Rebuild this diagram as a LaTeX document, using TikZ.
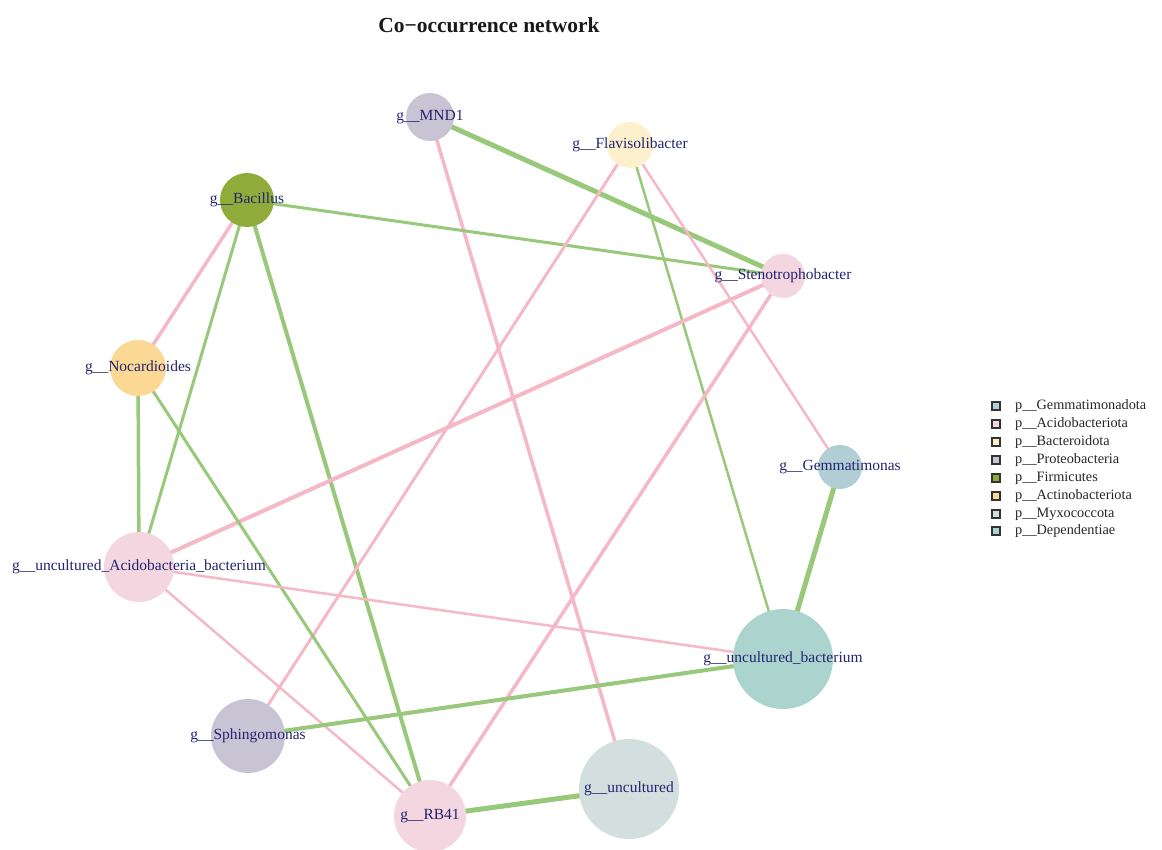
\documentclass[tikz,border=0pt]{standalone}
\usepackage{fontspec}
\setmainfont{Liberation Serif}
\pgfdeclarelayer{bg}
\pgfsetlayers{bg,main}
\definecolor{cGem}{RGB}{176,206,212}
\definecolor{cAcido}{RGB}{243,214,224}
\definecolor{cBacte}{RGB}{252,240,205}
\definecolor{cProteo}{RGB}{200,196,212}
\definecolor{cFirm}{RGB}{143,172,58}
\definecolor{cActino}{RGB}{251,216,148}
\definecolor{cMyxo}{RGB}{211,223,223}
\definecolor{cDep}{RGB}{172,212,206}
\definecolor{edgegreen}{RGB}{152,200,122}
\definecolor{edgepink}{RGB}{244,184,198}
\definecolor{labelc}{RGB}{36,36,112}
\begin{document}
\begin{tikzpicture}[x=1pt,y=-1pt,
  taxon/.style={circle, inner sep=0pt},
  tlabel/.style={text=labelc, inner sep=0pt, font=\fontsize{15.5}{15.5}\selectfont},
  posedge/.style={draw=edgegreen},
  negedge/.style={draw=edgepink},
  legsq/.style={draw=black!80, line width=1.3pt, minimum size=8pt, inner sep=0pt},
  legtx/.style={anchor=west, inner sep=0pt, text=black!85, font=\fontsize{14.3}{14.3}\selectfont}]
\useasboundingbox (0,0) rectangle (1162,850);

\node[font=\bfseries\fontsize{21.5}{21.5}\selectfont, text=black!90] (title) at (489,25) {Co−occurrence network};

% nodes
\node[taxon, fill=cProteo, minimum size=48pt, label={[tlabel]center:g\_\_MND1}] (mnd1) at (430,117) {};
\node[taxon, fill=cBacte, minimum size=46pt, label={[tlabel]center:g\_\_Flavisolibacter}] (flavi) at (630,145) {};
\node[taxon, fill=cFirm, minimum size=54pt, label={[tlabel]center:g\_\_Bacillus}] (bacil) at (247,200) {};
\node[taxon, fill=cAcido, minimum size=44pt, label={[tlabel]center:g\_\_Stenotrophobacter}] (steno) at (783,276) {};
\node[taxon, fill=cActino, minimum size=56pt, label={[tlabel]center:g\_\_Nocardioides}] (nocar) at (138,368) {};
\node[taxon, fill=cGem, minimum size=44pt, label={[tlabel]center:g\_\_Gemmatimonas}] (gemma) at (840,467) {};
\node[taxon, fill=cAcido, minimum size=70pt, label={[tlabel]center:g\_\_uncultured\_Acidobacteria\_bacterium}] (acido) at (139,567) {};
\node[taxon, fill=cDep, minimum size=100pt, label={[tlabel]center:g\_\_uncultured\_bacterium}] (unbac) at (783,659) {};
\node[taxon, fill=cProteo, minimum size=74pt, label={[tlabel]center:g\_\_Sphingomonas}] (sphin) at (248,736) {};
\node[taxon, fill=cAcido, minimum size=72pt, label={[tlabel]center:g\_\_RB41}] (rb41) at (430,816) {};
\node[taxon, fill=cMyxo, minimum size=100pt, label={[tlabel]center:g\_\_uncultured}] (uncul) at (629,789) {};

% edges
\begin{pgfonlayer}{bg}
\draw[posedge, line width=5pt] (mnd1.center) -- (steno.center);
\draw[negedge, line width=3.5pt] (mnd1.center) -- (uncul.center);
\draw[posedge, line width=3pt] (bacil.center) -- (steno.center);
\draw[negedge, line width=3.5pt] (bacil.center) -- (nocar.center);
\draw[posedge, line width=3pt] (bacil.center) -- (acido.center);
\draw[posedge, line width=4pt] (bacil.center) -- (rb41.center);
\draw[negedge, line width=3pt] (flavi.center) -- (sphin.center);
\draw[posedge, line width=2.5pt] (flavi.center) -- (unbac.center);
\draw[negedge, line width=2.5pt] (flavi.center) -- (gemma.center);
\draw[negedge, line width=4pt] (steno.center) -- (acido.center);
\draw[negedge, line width=3.5pt] (steno.center) -- (rb41.center);
\draw[posedge, line width=3.5pt] (nocar.center) -- (acido.center);
\draw[posedge, line width=3pt] (nocar.center) -- (rb41.center);
\draw[negedge, line width=2.5pt] (acido.center) -- (unbac.center);
\draw[negedge, line width=2.5pt] (acido.center) -- (rb41.center);
\draw[posedge, line width=5pt] (gemma.center) -- (unbac.center);
\draw[posedge, line width=4pt] (sphin.center) -- (unbac.center);
\draw[posedge, line width=5pt] (rb41.center) -- (uncul.center);
\end{pgfonlayer}

% legend
\node[legsq, fill=cGem] (lg1) at (996,406) {};
\node[legtx] (lt1) at (1015,406) {p\_\_Gemmatimonadota};
\node[legsq, fill=cAcido] (lg2) at (996,424) {};
\node[legtx] (lt2) at (1015,424) {p\_\_Acidobacteriota};
\node[legsq, fill=cBacte] (lg3) at (996,442) {};
\node[legtx] (lt3) at (1015,442) {p\_\_Bacteroidota};
\node[legsq, fill=cProteo] (lg4) at (996,460) {};
\node[legtx] (lt4) at (1015,460) {p\_\_Proteobacteria};
\node[legsq, fill=cFirm] (lg5) at (996,478) {};
\node[legtx] (lt5) at (1015,478) {p\_\_Firmicutes};
\node[legsq, fill=cActino] (lg6) at (996,496) {};
\node[legtx] (lt6) at (1015,496) {p\_\_Actinobacteriota};
\node[legsq, fill=cMyxo] (lg7) at (996,514) {};
\node[legtx] (lt7) at (1015,514) {p\_\_Myxococcota};
\node[legsq, fill=cDep] (lg8) at (996,531) {};
\node[legtx] (lt8) at (1015,531) {p\_\_Dependentiae};
\end{tikzpicture}
\end{document}
